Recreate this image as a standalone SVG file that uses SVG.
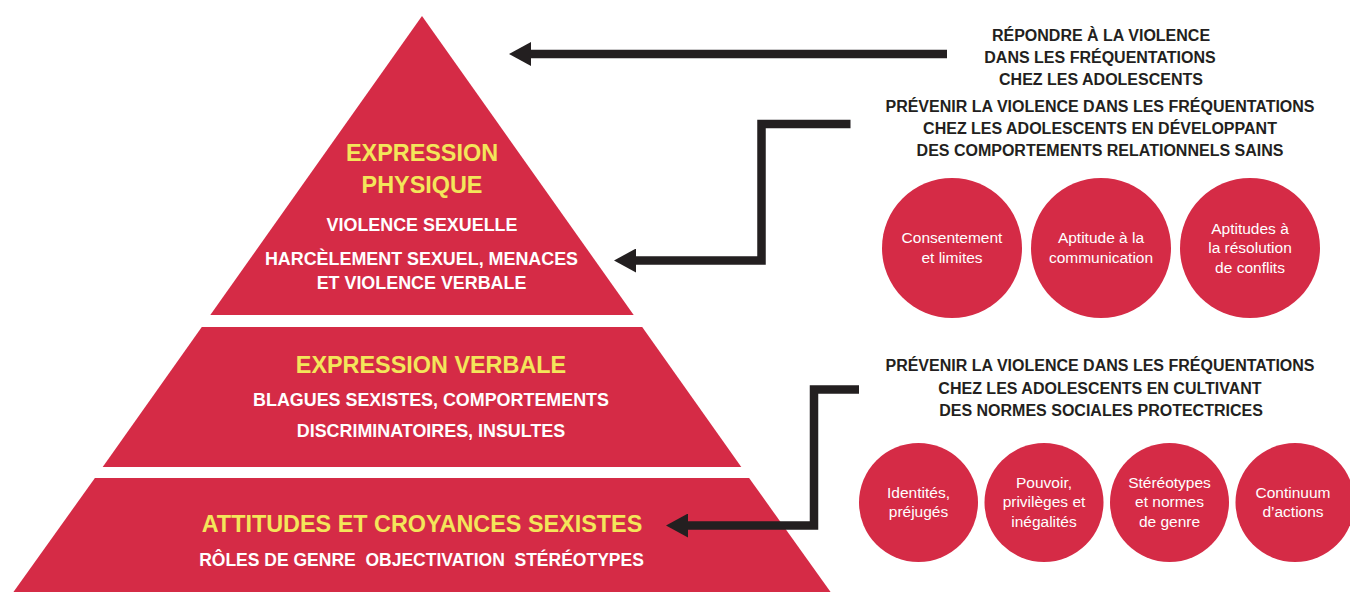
<svg xmlns="http://www.w3.org/2000/svg" width="1350" height="592" viewBox="0 0 1350 592">
<defs>
<style>
.band{fill:#d52b46}
.circ{fill:#d52b46}
.title{font-family:"Liberation Sans",Arial,sans-serif;font-weight:bold;font-size:23.4px;fill:#f3e65a;text-anchor:middle}
.sub{font-family:"Liberation Sans",Arial,sans-serif;font-weight:bold;font-size:17.9px;fill:#ffffff;text-anchor:middle}
.head{font-family:"Liberation Sans",Arial,sans-serif;font-weight:bold;font-size:16px;fill:#231f20;text-anchor:middle}
.ctext{font-family:"Liberation Sans",Arial,sans-serif;font-size:15.5px;fill:#ffffff;text-anchor:middle}
.conn{fill:none;stroke:#231f20;stroke-width:8.5;stroke-linejoin:miter;stroke-linecap:butt}
</style>
<marker id="ah" viewBox="0 0 22 24" markerUnits="userSpaceOnUse" markerWidth="22" markerHeight="24" refX="2" refY="12" orient="auto">
<path d="M0,0 L22,12 L0,24 Z" fill="#231f20"/>
</marker>
</defs>
<rect width="1350" height="592" fill="#ffffff"/>

<g id="level-physique">
<polygon class="band" points="422,16 210.3,315 633.7,315"/>
<text class="title" x="422" y="161">EXPRESSION</text>
<text class="title" x="422" y="193">PHYSIQUE</text>
<text class="sub" x="422" y="231">VIOLENCE SEXUELLE</text>
<text class="sub" x="421.5" y="265">HARCÈLEMENT SEXUEL, MENACES</text>
<text class="sub" x="421.5" y="289">ET VIOLENCE VERBALE</text>
</g>

<g id="level-verbale">
<polygon class="band" points="201.8,327 642.2,327 741.3,467 102.7,467"/>
<text class="title" x="431" y="373">EXPRESSION VERBALE</text>
<text class="sub" x="431" y="406">BLAGUES SEXISTES, COMPORTEMENTS</text>
<text class="sub" x="431" y="437">DISCRIMINATOIRES, INSULTES</text>
</g>

<g id="level-attitudes">
<polygon class="band" points="94.9,478 749.1,478 832,594 12,594"/>
<text class="title" x="422" y="532">ATTITUDES ET CROYANCES SEXISTES</text>
<text class="sub" x="421.5" y="566" style="font-size:17.5px">RÔLES DE GENRE&#160; OBJECTIVATION&#160; STÉRÉOTYPES</text>
</g>

<g id="connectors">
<polyline class="conn" points="947,54 529,54" marker-end="url(#ah)"/>
<polyline class="conn" points="850.5,124 761.5,124 761.5,260.5 634,260.5" marker-end="url(#ah)"/>
<polyline class="conn" points="859,389.5 814,389.5 814,525.5 686,525.5" marker-end="url(#ah)"/>
</g>

<g id="label-repondre">
<text class="head" x="1101" y="41">RÉPONDRE À LA VIOLENCE</text>
<text class="head" x="1100" y="63">DANS LES FRÉQUENTATIONS</text>
<text class="head" x="1101" y="85">CHEZ LES ADOLESCENTS</text>
</g>

<g id="label-prevenir-comportements">
<text class="head" x="1100" y="112">PRÉVENIR LA VIOLENCE DANS LES FRÉQUENTATIONS</text>
<text class="head" x="1100" y="134">CHEZ LES ADOLESCENTS EN DÉVELOPPANT</text>
<text class="head" x="1100" y="156">DES COMPORTEMENTS RELATIONNELS SAINS</text>
</g>

<g id="circle-consentement">
<circle class="circ" cx="952" cy="248" r="70"/>
<text class="ctext" x="952" y="243">Consentement</text>
<text class="ctext" x="952" y="263">et limites</text>
</g>
<g id="circle-communication">
<circle class="circ" cx="1101" cy="248" r="70"/>
<text class="ctext" x="1101" y="243">Aptitude à la</text>
<text class="ctext" x="1101" y="263">communication</text>
</g>
<g id="circle-conflits">
<circle class="circ" cx="1250" cy="248" r="70"/>
<text class="ctext" x="1250" y="234">Aptitudes à</text>
<text class="ctext" x="1250" y="253">la résolution</text>
<text class="ctext" x="1250" y="273">de conflits</text>
</g>

<g id="label-prevenir-normes">
<text class="head" x="1100" y="371">PRÉVENIR LA VIOLENCE DANS LES FRÉQUENTATIONS</text>
<text class="head" x="1100" y="394">CHEZ LES ADOLESCENTS EN CULTIVANT</text>
<text class="head" x="1101" y="416">DES NORMES SOCIALES PROTECTRICES</text>
</g>

<g id="circle-identites">
<circle class="circ" cx="918.5" cy="502.5" r="59.5"/>
<text class="ctext" x="918.5" y="498">Identités,</text>
<text class="ctext" x="918.5" y="517">préjugés</text>
</g>
<g id="circle-pouvoir">
<circle class="circ" cx="1044" cy="502.5" r="59.5"/>
<text class="ctext" x="1044" y="488">Pouvoir,</text>
<text class="ctext" x="1044" y="507">privilèges et</text>
<text class="ctext" x="1044" y="527">inégalités</text>
</g>
<g id="circle-stereotypes">
<circle class="circ" cx="1169.5" cy="502.5" r="59.5"/>
<text class="ctext" x="1169.5" y="488">Stéréotypes</text>
<text class="ctext" x="1169.5" y="507">et normes</text>
<text class="ctext" x="1169.5" y="527">de genre</text>
</g>
<g id="circle-continuum">
<circle class="circ" cx="1295" cy="502.5" r="59.5"/>
<text class="ctext" x="1293" y="498">Continuum</text>
<text class="ctext" x="1293" y="517">d’actions</text>
</g>
</svg>
